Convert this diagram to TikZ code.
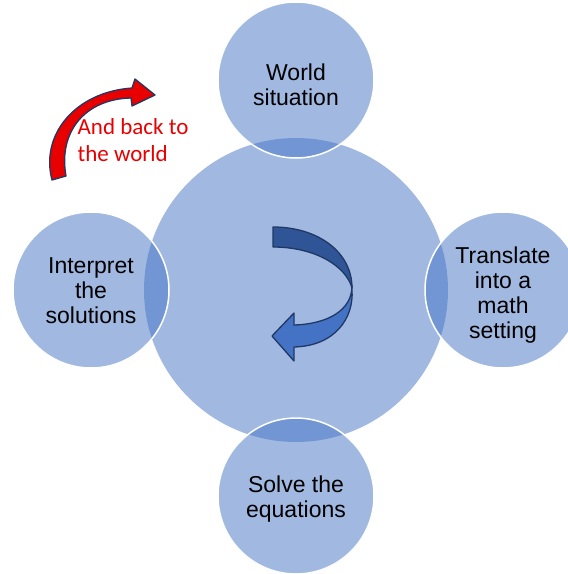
\documentclass[tikz,border=0pt]{standalone}
\usepackage{fontspec}
\setmainfont{Liberation Sans}
\newfontfamily\calibrifont{Carlito}
\usepackage{tikz}
\definecolor{cycleblue}{RGB}{68,114,196}
\definecolor{arrowdark}{RGB}{47,85,151}
\definecolor{outlinenavy}{RGB}{31,56,100}
\definecolor{backred}{RGB}{232,0,0}
\pgfdeclarelayer{circlelayer}
\pgfdeclarelayer{arrowlayer}
\pgfsetlayers{circlelayer,main,arrowlayer}
\tikzstyle{hub}=[circle, fill=cycleblue, fill opacity=0.5, minimum size=304pt, inner sep=0pt]
\tikzstyle{stage}=[circle, fill=cycleblue, fill opacity=0.5, draw=white, line width=1.5pt, minimum size=156pt, inner sep=0pt]
\tikzstyle{stagetext}=[align=center, font=\fontsize{23}{25}\selectfont]
\tikzstyle{band}=[draw=outlinenavy, line width=1.3pt, line join=round]

\begin{document}
\begin{tikzpicture}[x=1pt, y=-1pt]
            \useasboundingbox (0,0) rectangle (568,574);
            \begin{pgfonlayer}{circlelayer}
                \node [style=hub] (hub) at (296, 290) {};
            \end{pgfonlayer}
            \node [style=stage] (world) at (296, 80) {};
            \node [style=stage] (interpret) at (91, 290) {};
            \node [style=stage] (translate) at (503, 290) {};
            \node [style=stage] (solve) at (296, 496) {};

            \node [style=stagetext] (worldtext) at ([yshift=-5pt]world.center) {World\\situation};
            \node [style=stagetext] (interprettext) at ([yshift=-1pt]interpret.center) {Interpret\\the\\solutions};
            \node [style=stagetext] (translatetext) at ([yshift=-5pt]translate.center) {Translate\\into a\\math\\setting};
            \node [style=stagetext] (solvetext) at ([yshift=-3pt]solve.center) {Solve the\\equations};
            \node [text=backred, align=left, font=\calibrifont\fontsize{23}{27}\selectfont] (backnote) at (133, 140) {And back to\\the world};
            \begin{pgfonlayer}{arrowlayer}
                % red arrow back to the world
                \draw [style=band, fill=backred] (52,180) .. controls (40,135) and (75,92) .. (132,88) -- (135,79) -- (155,95) -- (132,106) -- (131,98) .. controls (85,99) and (58,132) .. (66,176) -- cycle;
                % twisted arrow in the hub
                \draw [style=band, fill=arrowdark] (273,227) .. controls (318,227) and (352,252) .. (352,288) .. controls (346,266) and (315,247) .. (273,247) -- cycle;
                \draw [style=band, fill=cycleblue] (352,286) .. controls (352,310) and (328,324) .. (294,325) -- (294,313) -- (272,336) -- (294,361) -- (294,347) .. controls (335,346) and (354,318) .. (352,290) -- cycle;
            \end{pgfonlayer}
        \end{tikzpicture}
\end{document}
